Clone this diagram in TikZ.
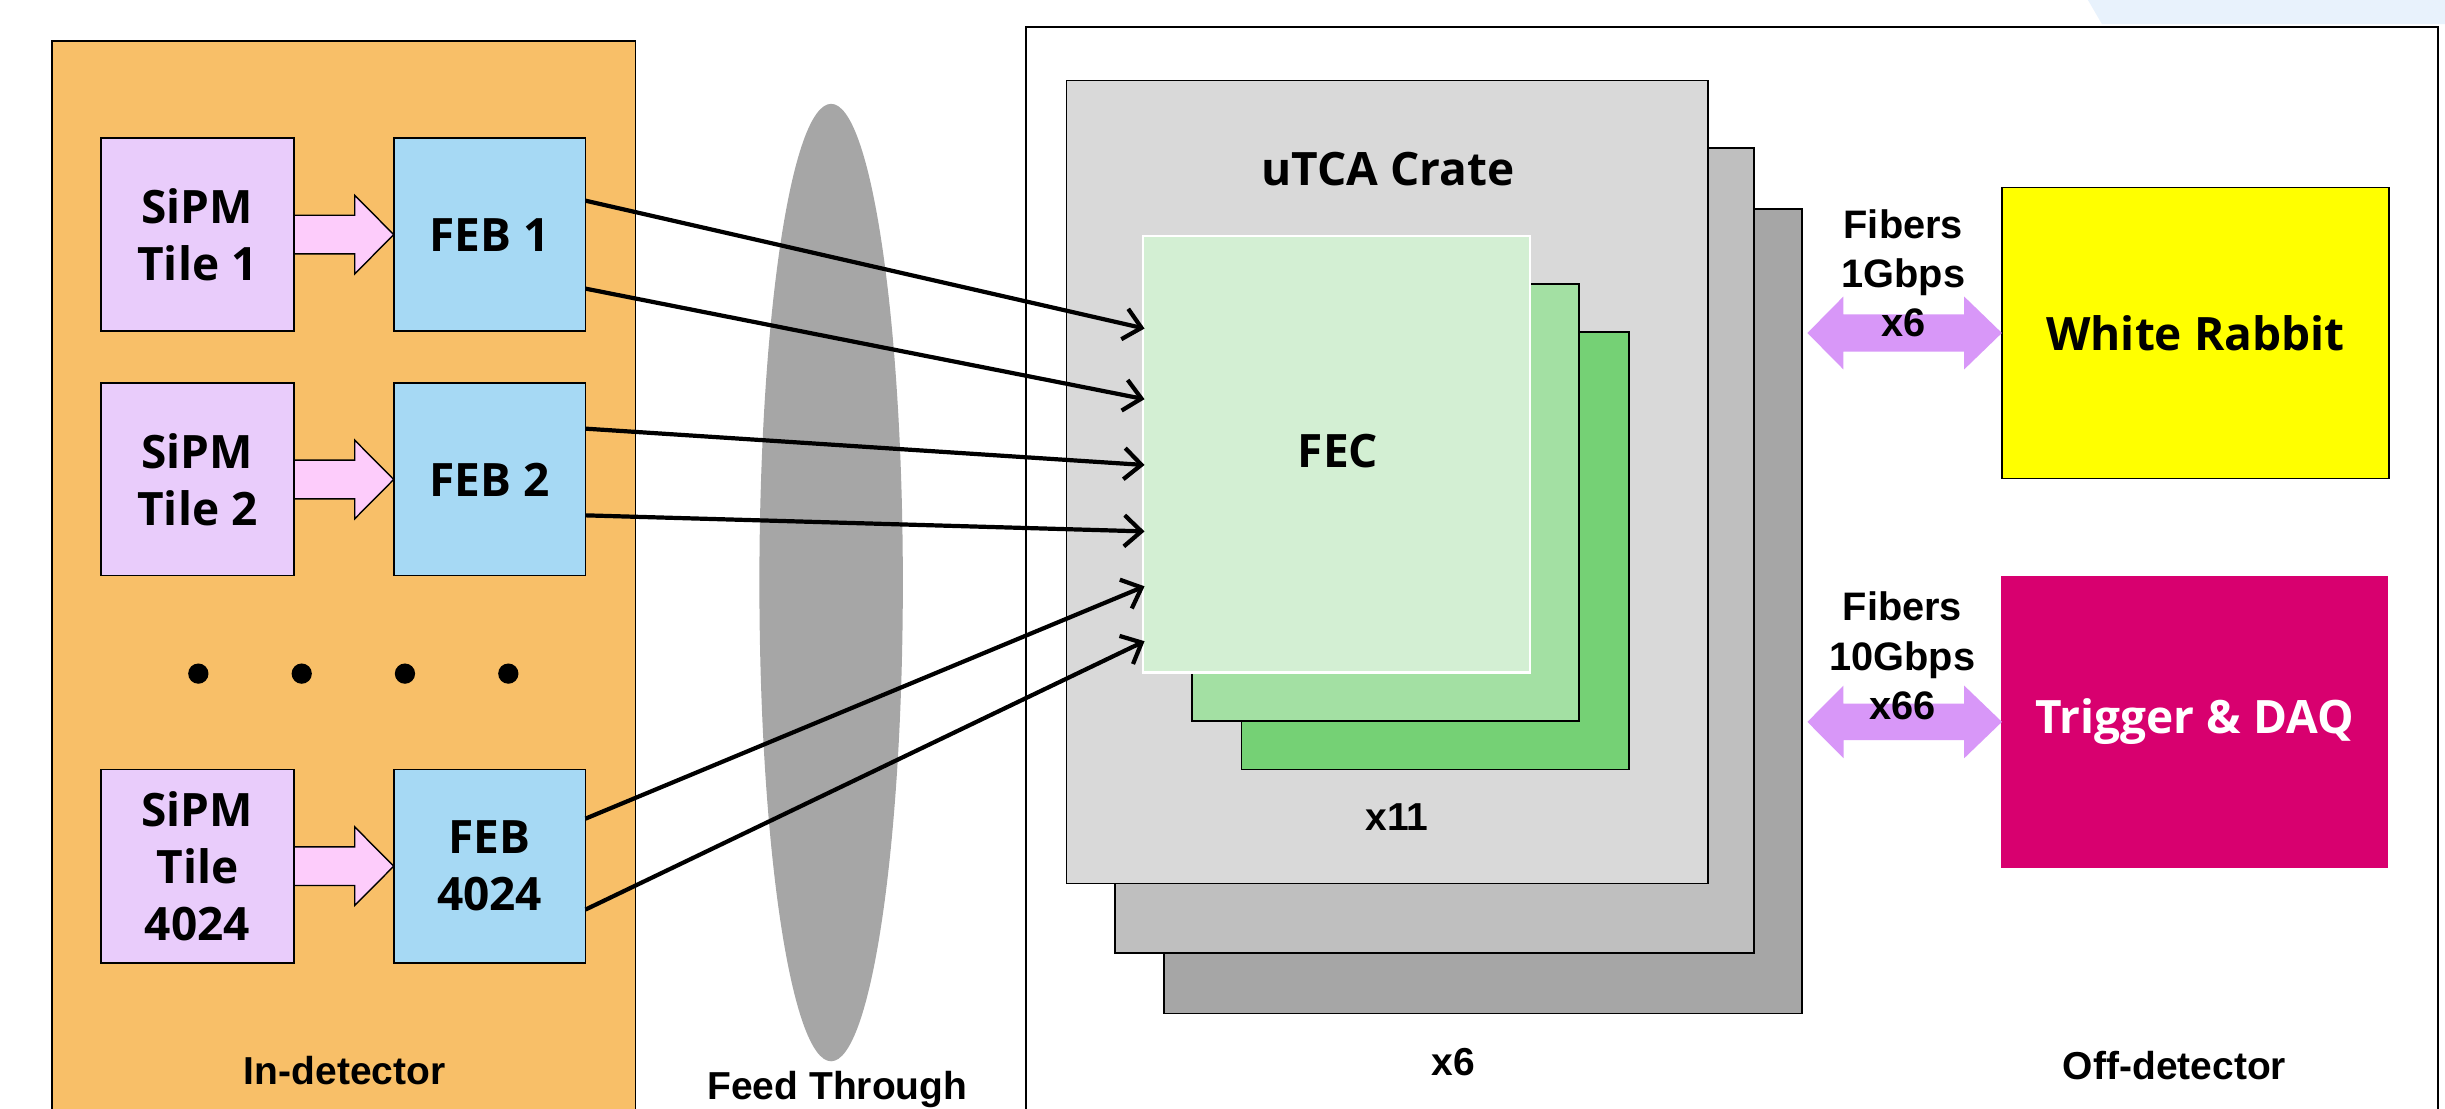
\documentclass[tikz,border=0pt]{standalone}
\usepackage{fontspec}
\setmainfont{Open Sans}
\newfontfamily\arialfont{Liberation Sans}
\usetikzlibrary{arrows.meta,calc,shapes.geometric}
\definecolor{orangebg}{HTML}{F8BF68}
\definecolor{lilac}{HTML}{E9CCFB}
\definecolor{febblue}{HTML}{A6D9F4}
\definecolor{arrpink}{HTML}{FDCCFB}
\definecolor{ftgray}{HTML}{A6A6A6}
\definecolor{crateA}{HTML}{D9D9D9}
\definecolor{crateB}{HTML}{BFBFBF}
\definecolor{crateC}{HTML}{A6A6A6}
\definecolor{fecA}{HTML}{D3EFD3}
\definecolor{fecB}{HTML}{A3E0A3}
\definecolor{fecC}{HTML}{75D175}
\definecolor{wryellow}{HTML}{FFFF00}
\definecolor{daqmag}{HTML}{D8006F}
\definecolor{fibviolet}{HTML}{D897F8}
\definecolor{cornerblue}{HTML}{E8F2FC}
\begin{document}
\begin{tikzpicture}[x=1pt,y=-1pt,
  box/.style={draw=black, line width=1pt, inner sep=0pt, outer sep=0pt, align=center,
    font=\bfseries\fontsize{29.5}{36.6}\selectfont},
  panel/.style={draw=black, line width=1pt, inner sep=0pt, outer sep=0pt, anchor=north west},
  seglbl/.style={inner sep=0pt, anchor=base, font=\bfseries\fontsize{29.5}{36.6}\selectfont},
  ariallbl/.style={inner sep=0pt, anchor=base, font=\arialfont\bfseries\fontsize{25}{31}\selectfont},
  fiberlbl/.style={inner sep=0pt, align=center, font=\arialfont\bfseries\fontsize{25.5}{31.5}\selectfont},
  link/.style={line width=2.7pt, -{Straight Barb[length=11pt,width=20pt]}},
  blockarr/.style={fill=arrpink, draw=black, line width=0.9pt, line join=miter},
  fiberarr/.style={fill=fibviolet},
  dotmark/.style={circle, fill=black, minimum size=13pt, inner sep=0pt}
]
\useasboundingbox (0,0) rectangle (1568,711);
\clip (0,0) rectangle (1568,711);

% corner fragment
\fill[cornerblue] (1339,0) -- (1568,0) -- (1568,15.5) -- (1348,15.5) -- cycle;

% In-detector panel
\node[panel, fill=orangebg, minimum width=374pt, minimum height=720pt] (indet) at (33.5,26.3) {};
% Off-detector panel
\node[panel, fill=white, line width=1.2pt, minimum width=905.5pt, minimum height=720pt] (offdet) at (657.9,17.2) {};

% feed-through
\node[ellipse, fill=ftgray, minimum width=92pt, minimum height=614pt, inner sep=0pt] (ft) at (533,373.6) {};

% tiles and FEBs
\node[box, fill=lilac, minimum width=124pt, minimum height=123.7pt] (t1) at (126.6,150.45) {SiPM\\Tile 1};
\node[box, fill=febblue, minimum width=123pt, minimum height=123.7pt] (f1) at (314,150.45) {FEB 1};
\node[box, fill=lilac, minimum width=124pt, minimum height=123.4pt] (t2) at (126.6,307.5) {SiPM\\Tile 2};
\node[box, fill=febblue, minimum width=123pt, minimum height=123.4pt] (f2) at (314,307.5) {FEB 2};
\node[box, fill=lilac, minimum width=124pt, minimum height=123.8pt] (t3) at (126.6,555.5) {SiPM\\Tile\\4024};
\node[box, fill=febblue, minimum width=123pt, minimum height=123.8pt] (f3) at (314,555.5) {FEB\\4024};

% block arrows tile -> FEB
\foreach \t/\f in {t1/f1,t2/f2,t3/f3}{
  \draw[blockarr] ($(\t.east)+(0,-12.4)$) -- ($(\f.west)+(-25,-12.4)$) -- ($(\f.west)+(-25,-25.2)$)
    -- (\f.west) -- ($(\f.west)+(-25,25.2)$) -- ($(\f.west)+(-25,12.4)$) -- ($(\t.east)+(0,12.4)$) -- cycle;
}

% dots
\node[dotmark] (d1) at (127.2,432) {};
\node[dotmark] (d2) at (193.5,432) {};
\node[dotmark] (d3) at (259.7,432) {};
\node[dotmark] (d4) at (326,432) {};

\node[ariallbl] (inlbl) at (221,695.4) {In-detector};
\node[ariallbl] (ftlbl) at (537,705) {Feed Through};

% crates
\node[panel, fill=crateC, minimum width=409pt, minimum height=515.9pt] (crC) at (746.5,134) {};
\node[panel, fill=crateB, minimum width=409.6pt, minimum height=516.3pt] (crB) at (715.2,95) {};
\node[panel, fill=crateA, minimum width=411.3pt, minimum height=515pt] (crA) at (684,51.5) {};
\node[seglbl] (crlbl) at (890,119.1) {uTCA Crate};
\node[ariallbl] (x11) at (896,532.9) {x11};
\node[ariallbl] (x6) at (932,689.8) {x6};

% FEC cards
\node[panel, fill=fecC, minimum width=248.3pt, minimum height=280.6pt] (fecC) at (796.2,213) {};
\node[panel, fill=fecB, minimum width=248.2pt, minimum height=280.2pt] (fecB) at (764.3,182.1) {};
\node[panel, draw=white, line width=1.5pt, fill=fecA, minimum width=248.2pt, minimum height=280.1pt] (fecA) at (733,151.2) {};
\node[seglbl] (feclbl) at (858,300) {FEC};

% links FEB -> FEC
\draw[link] ($(f1.east)+(0,-21.75)$) -- ($(fecA.west)+(1,-80.55)$);
\draw[link] ($(f1.east)+(0,34.65)$) -- ($(fecA.west)+(1,-35.25)$);
\draw[link] ($(f2.east)+(0,-32.6)$) -- ($(fecA.west)+(1,6.95)$);
\draw[link] ($(f2.east)+(0,23)$) -- ($(fecA.west)+(1,49.55)$);
\draw[link] ($(f3.east)+(0,-30.5)$) -- ($(fecA.west)+(1,84.75)$);
\draw[link] ($(f3.east)+(0,27.8)$) -- ($(fecA.west)+(1,119.95)$);

% off-detector boxes
\node[box, fill=wryellow, minimum width=248.2pt, minimum height=186.7pt] (wr) at (1407.9,213.55) {White Rabbit};
\node[box, draw=daqmag, fill=daqmag, text=white, minimum width=247.1pt, minimum height=186.1pt] (daq) at (1407.4,462.95) {Trigger \& DAQ};

% fiber double arrows
\coordinate (wrL) at (1159.1,213.55);
\coordinate (daqL) at (1159.1,462.95);
\fill[fiberarr] (wrL) -- ++(23.1,-23.4) -- ++(0,11.5) -- ++(77.4,0) -- ++(0,-11.5) -- (wr.west)
  -- ++(-24.2,23.4) -- ++(0,-11.5) -- ++(-77.4,0) -- ++(0,11.5) -- cycle;
\fill[fiberarr] (daqL) -- ++(23.1,-23.3) -- ++(0,11.55) -- ++(77.4,0) -- ++(0,-11.55) -- (daq.west)
  -- ++(-24.2,23.3) -- ++(0,-11.55) -- ++(-77.4,0) -- ++(0,11.55) -- cycle;

\node[fiberlbl] (fib1) at (1220.6,175.2) {Fibers\\1Gbps\\x6};
\node[fiberlbl] (fib2) at (1220,420.6) {Fibers\\10Gbps\\x66};

\node[ariallbl] (offlbl) at (1394.5,692.6) {Off-detector};
\end{tikzpicture}
\end{document}
